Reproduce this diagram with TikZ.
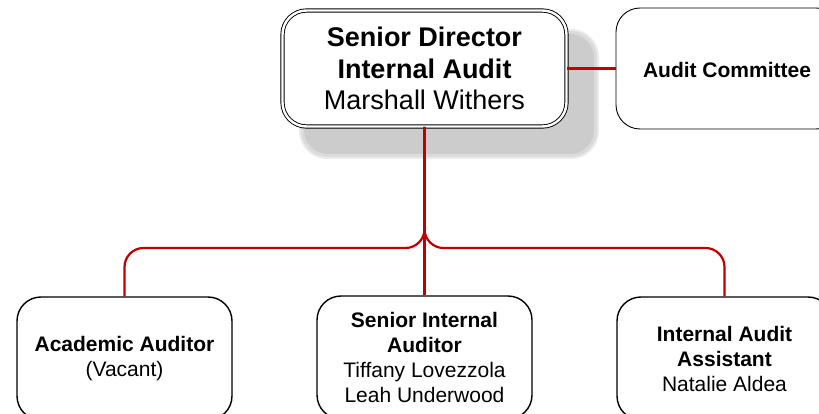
\documentclass[tikz,border=0pt]{standalone}
\usepackage{fontspec}
\setmainfont{Liberation Sans}
\definecolor{linkred}{HTML}{C00000}
\begin{document}
\begin{tikzpicture}[x=1pt,y=-1pt,
  topbox/.style={draw=black, line width=0.9pt, double=white, double distance=2.4pt,
    rounded corners=24pt, fill=white, minimum width=284pt, minimum height=116pt,
    align=center, inner sep=0pt, font=\fontsize{27}{31.5}\selectfont},
  orgbox/.style={draw=black, line width=1.4pt, rounded corners=24pt, fill=white,
    minimum width=215pt, minimum height=123pt, align=center, inner sep=0pt,
    font=\fontsize{21}{25}\selectfont},
  sidebox/.style={draw=black, line width=0.9pt, rounded corners=24pt, fill=white,
    minimum height=121pt, align=center, inner sep=0pt,
    font=\fontsize{21}{25}\selectfont},
  redline/.style={draw=linkred, line width=2.2pt}]
\useasboundingbox (0,0) rectangle (819,414);
\clip (0,0) rectangle (819,414);
% shadow of the top box
\fill[black!8, rounded corners=28pt] (299,29) rectangle (599,159);
\fill[black!14, rounded corners=26pt] (301,31) rectangle (597,157);
\fill[black!20, rounded corners=24pt] (304,34) rectangle (594,154);
% nodes
\node[topbox] (top) at (424.5,68.5) {\textbf{Senior Director}\\\textbf{Internal Audit}\\Marshall Withers};
\node[sidebox, minimum width=224pt] (committee) at (728,68.5) {};
\node[font=\fontsize{21}{25}\selectfont\bfseries] (committeetext) at (727,70) {Audit Committee};
\node[orgbox] (aa) at (124.5,358.5) {\textbf{Academic Auditor}\\(Vacant)};
\node[orgbox] (sia) at (424.5,357.5) {\textbf{Senior Internal}\\\textbf{Auditor}\\Tiffany Lovezzola\\Leah Underwood};
\node[orgbox] (iaa) at (724.5,358.5) {\textbf{Internal Audit}\\\textbf{Assistant}\\Natalie Aldea};
% connectors
\draw[redline] (top.east) -- (committee.west);
\draw[redline] (top.south) -- (sia.north);
\draw[redline, rounded corners=19pt] (top.south) -- (top.south |- 0,248) -| (aa.north);
\draw[redline, rounded corners=19pt] (top.south) -- (top.south |- 0,248) -| (iaa.north);
\end{tikzpicture}
\end{document}
